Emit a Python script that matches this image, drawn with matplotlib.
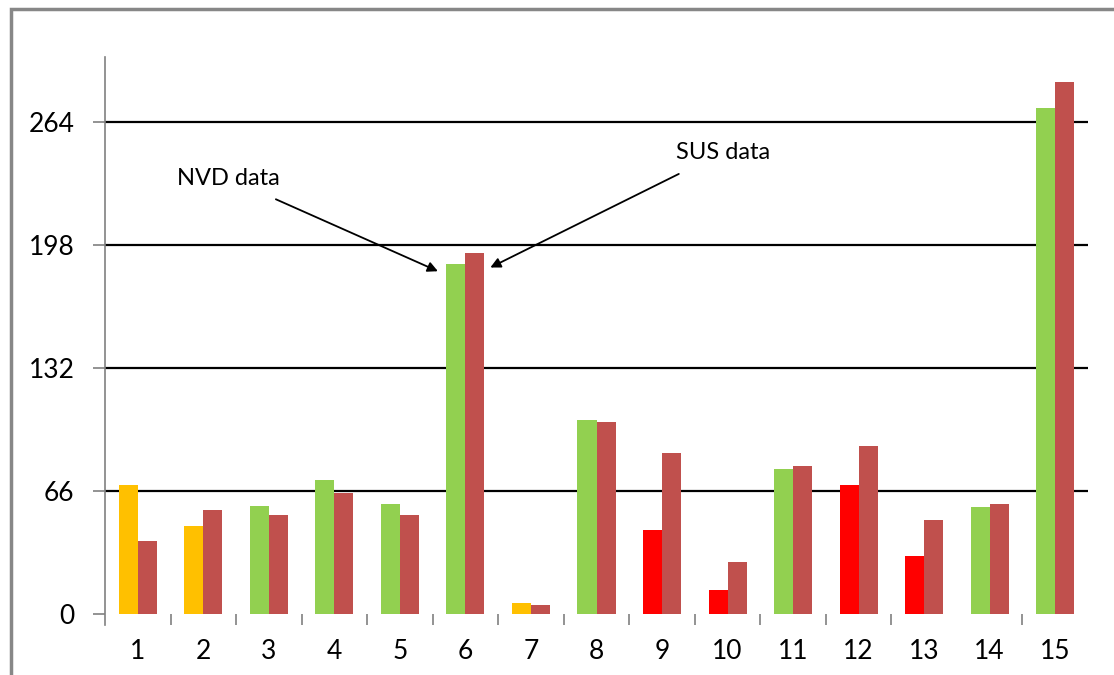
import matplotlib
matplotlib.use("Agg")
import matplotlib.pyplot as plt
from matplotlib.patches import Rectangle

categories = [str(i) for i in range(1, 16)]
nvd_values = [69, 47, 58, 72, 59, 188, 6, 104, 45, 13, 78, 69, 31, 57.5, 271.5]
sus_values = [39, 56, 53, 65, 53, 194, 5, 103, 86.5, 28, 79.5, 90, 50.5, 59, 285.5]
nvd_colors = ["#FFC000", "#FFC000", "#92D050", "#92D050", "#92D050", "#92D050",
              "#FFC000", "#92D050", "#FF0000", "#FF0000", "#92D050", "#FF0000",
              "#FF0000", "#92D050", "#92D050"]
sus_color = "#C0504D"
yticks = [0, 66, 132, 198, 264]

plt.rcParams['font.family'] = ['Lato', 'DejaVu Sans']

fig = plt.figure(figsize=(11.14, 6.75), dpi=100)
ax = fig.add_axes([105/1114, 1-614/675, (1088-105)/1114, (614-57)/675])

x = list(range(1, len(categories) + 1))
w = 0.29
ax.bar([v - w/2 for v in x], nvd_values, width=w, color=nvd_colors, zorder=3)
ax.bar([v + w/2 for v in x], sus_values, width=w, color=sus_color, zorder=3)

ax.set_xlim(0.5, 15.5)
ax.set_ylim(0, 299)

for t in yticks[1:]:
    ax.axhline(t, color="black", lw=1.6, zorder=1)

ax.set_yticks(yticks)
ax.set_yticklabels([str(t) for t in yticks], fontsize=19)
ax.set_xticks(x)
ax.set_xticklabels(categories, fontsize=19)
ax.tick_params(axis='x', which='major', length=0, pad=18)
minor = [i + 0.5 for i in range(1, 15) if i != 13]
ax.set_xticks(minor, minor=True)
ax.tick_params(axis='x', which='minor', length=8, width=1.2, color="#808080", direction='out')
ax.tick_params(axis='y', length=9, width=1.2, color="#808080", pad=13)

for s in ['top', 'right', 'bottom']:
    ax.spines[s].set_visible(False)
ax.spines['left'].set_color("#808080")
ax.spines['left'].set_linewidth(1.2)
ax.spines['left'].set_bounds(-6, 299)

ax.annotate("NVD data", xy=(5.58, 184), xytext=(2.38, 234), fontsize=17,
            ha='center', va='center',
            arrowprops=dict(arrowstyle='-|>', color='black', lw=1.3,
                            mutation_scale=15, shrinkA=14, shrinkB=0))
ax.annotate("SUS data", xy=(6.38, 186), xytext=(9.93, 248), fontsize=17,
            ha='center', va='center',
            arrowprops=dict(arrowstyle='-|>', color='black', lw=1.3,
                            mutation_scale=15, shrinkA=14, shrinkB=0))

fig.patches.append(Rectangle((11/1114, -0.2), 1.2, 1.2 - 9/675, transform=fig.transFigure,
                             fill=False, edgecolor="#878787", lw=2.5))

fig.savefig("out.png", dpi=100)
